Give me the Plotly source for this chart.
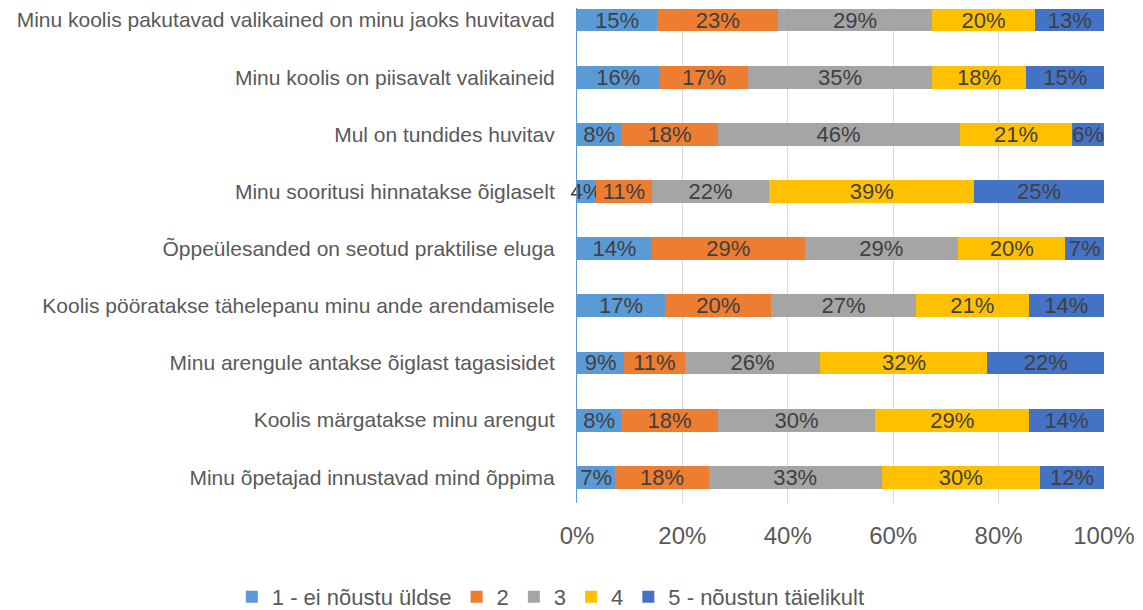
import plotly.graph_objects as go

# questions, top to bottom as in the chart
questions = [
    'Minu koolis pakutavad valikained on minu jaoks huvitavad',
    'Minu koolis on piisavalt valikaineid',
    'Mul on tundides huvitav',
    'Minu sooritusi hinnatakse õiglaselt',
    'Õppeülesanded on seotud praktilise eluga',
    'Koolis pööratakse tähelepanu minu ande arendamisele',
    'Minu arengule antakse õiglast tagasisidet',
    'Koolis märgatakse minu arengut',
    'Minu õpetajad innustavad mind õppima',
]

# shares in percent per answer option (same order as questions)
s1 = [15.2, 15.7, 8.4, 3.6, 14.2, 16.7, 9.0, 8.4, 7.3]
s2 = [23.0, 16.8, 18.3, 10.6, 29.0, 20.2, 11.4, 18.3, 17.7]
s3 = [29.1, 34.8, 45.9, 22.3, 29.1, 27.4, 25.8, 29.9, 32.8]
s4 = [19.7, 18.0, 21.4, 38.9, 20.4, 21.4, 31.7, 29.2, 30.1]
s5 = [13.0, 14.7, 6.0, 24.6, 7.3, 14.3, 22.1, 14.2, 12.1]

series_names = ['1 - ei nõustu üldse', '2', '3', '4', '5 - nõustun täielikult']
colors = ['#5b9bd5', '#ed7d31', '#a5a5a5', '#ffc000', '#4472c4']

tick_vals = [0, 20, 40, 60, 80, 100]
tick_text = ['0%', '20%', '40%', '60%', '80%', '100%']

FONT = 'Liberation Sans, Arial, sans-serif'

fig = go.Figure()
for i, (name, vals, col) in enumerate(zip(series_names, [s1, s2, s3, s4, s5], colors)):
    fig.add_trace(go.Bar(
        y=questions[::-1],
        x=vals[::-1],
        orientation='h',
        name=name,
        marker=dict(color=col, line=dict(width=0)),
        width=0.4,
        texttemplate='%{x:.0f}%',
        textposition='inside',
        insidetextanchor='middle',
        constraintext='none',
        textangle=0,
        # first series: let the small "4%" label spill left of the axis
        cliponaxis=(i != 0),
        textfont=dict(family=FONT, size=22, color='#404040'),
    ))

# page body adds an 8px offset, margins account for it
fig.update_layout(
    barmode='stack',
    width=1143,
    height=610,
    margin=dict(l=569, r=47, t=0, b=113),
    paper_bgcolor='white',
    plot_bgcolor='white',
    font=dict(family=FONT, color='#595959'),
    legend=dict(
        orientation='h',
        x=-0.655, xanchor='left',
        y=-0.19, yanchor='middle',
        font=dict(size=22, color='#595959'),
        itemwidth=30,
        traceorder='normal',
    ),
    xaxis=dict(
        # tiny headroom so rows summing to 100 (float) keep their last label
        range=[0, 100.01],
        tickvals=tick_vals,
        ticktext=tick_text,
        tickfont=dict(size=24, color='#595959'),
        showgrid=True,
        gridcolor='#d9d9d9',
        gridwidth=1,
        zeroline=False,
        showline=False,
        ticks='',
        ticklabelstandoff=16,
        automargin=False,
    ),
    yaxis=dict(
        range=[-0.45, 8.21],
        tickfont=dict(size=21, color='#595959'),
        showline=True,
        linecolor='#5b9bd5',
        linewidth=1,
        ticks='',
        ticklabelstandoff=17,
        showgrid=False,
        automargin=False,
    ),
)

fig.write_html('out.html')
